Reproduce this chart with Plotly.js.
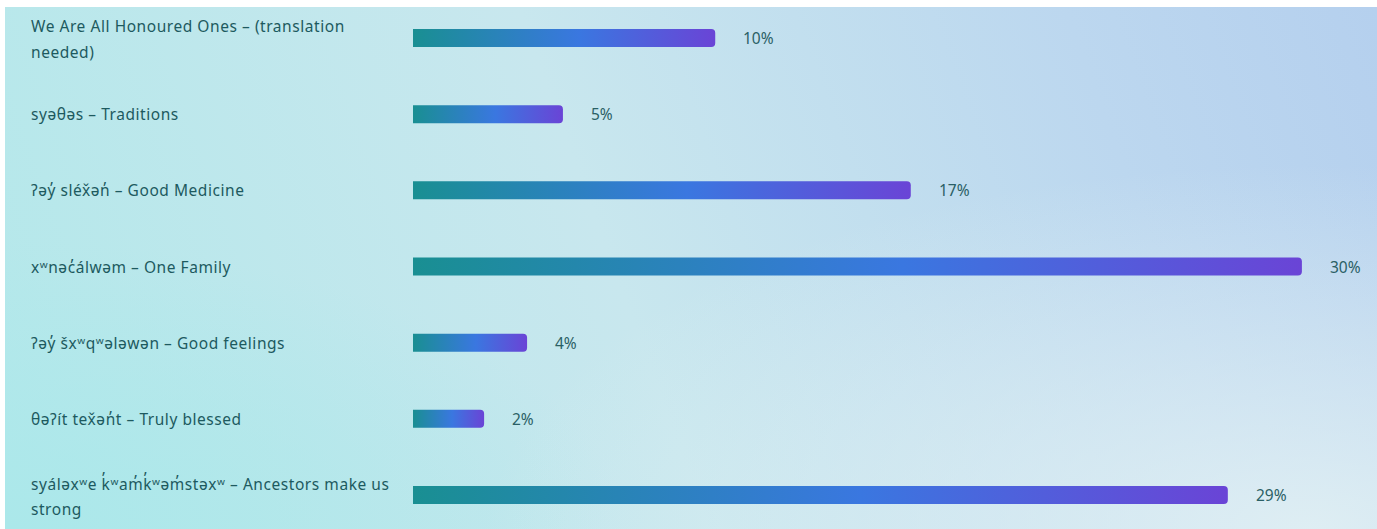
<!DOCTYPE html>
<html>
<head>
<meta charset="utf-8">
<script src="https://cdn.plot.ly/plotly-3.0.1.min.js"></script>
<style>
  html, body { margin: 0; padding: 0; background: #ffffff; width: 1377px; height: 529px; overflow: hidden; }
  #bg {
    position: absolute; left: 5px; top: 7px; right: 0; bottom: 0;
    background:
      radial-gradient(ellipse 60% 70% at 95% 100%, rgba(228,242,244,0.85) 0%, rgba(228,242,244,0) 100%),
      radial-gradient(ellipse 45% 55% at 0% 100%, rgba(170,232,234,0.9) 0%, rgba(170,232,234,0) 100%),
      linear-gradient(70deg, #b3e8ea 0%, #c8e7ee 45%, #bcd7ef 80%, #b5d0ee 100%);
  }
  #chart { position: absolute; left: 0; top: 0; width: 1377px; height: 529px; }
</style>
</head>
<body>
<div id="bg"></div>
<div id="chart"></div>
<script>
// Category labels (lines separated by \n)
const categories = [
  "We Are All Honoured Ones – (translation\nneeded)",
  "syəθəs – Traditions",
  "ʔəy̓ sléx̌ən̓ – Good Medicine",
  "xʷnəc̓álwəm – One Family",
  "ʔəy̓ šxʷqʷələwən – Good feelings",
  "θəʔít tex̌ən̓t – Truly blessed",
  "syáləxʷe k̓ʷam̓k̓ʷəm̓stəxʷ – Ancestors make us\nstrong"
];
// Bar lengths (percent)
const values = [10.2, 5.06, 16.8, 30.0, 3.85, 2.4, 27.5];
// Value labels as printed
const valueLabels = ["10%", "5%", "17%", "30%", "4%", "2%", "29%"];

const idx = categories.map((_, i) => i);

const textColor = "#1d5a5f";
const font = "Noto Sans, DejaVu Sans, sans-serif";

const annotations = [];
categories.forEach((c, i) => {
  const lines = c.split("\n");
  const shifts = lines.length === 1 ? [0] : [12, -14];
  lines.forEach((ln, k) => {
    annotations.push({
      xref: "paper", yref: "y", x: (29 - 413) / 964, y: i,
      xanchor: "left", yanchor: "middle", yshift: shifts[k],
      text: ln, showarrow: false, align: "left",
      font: { family: font, size: 15.5, color: textColor }
    });
  });
  annotations.push({
    xref: "x", yref: "y", x: values[i], y: i,
    xanchor: "left", yanchor: "middle", xshift: 26,
    text: valueLabels[i], showarrow: false,
    font: { family: font, size: 15.5, color: "#2a5f65" }
  });
});

const trace = {
  type: "bar", orientation: "h",
  x: values, y: idx,
  width: 0.236,
  marker: { color: "#3a76e0", cornerradius: 4, line: { width: 0 } },
  hoverinfo: "none"
};

const layout = {
  width: 1377, height: 529,
  margin: { l: 413, r: 0, t: 0, b: 0, pad: 0 },
  paper_bgcolor: "rgba(0,0,0,0)",
  plot_bgcolor: "rgba(0,0,0,0)",
  showlegend: false,
  xaxis: { range: [0, 964 / 29.63], visible: false, fixedrange: true },
  yaxis: { range: [6.446, -0.499], visible: false, fixedrange: true },
  annotations: annotations,
  font: { family: font }
};

Plotly.newPlot("chart", [trace], layout, { staticPlot: true, displayModeBar: false }).then(gd => {
  const svg = gd.querySelector(".main-svg");
  let defs = svg.querySelector("defs");
  const ns = "http://www.w3.org/2000/svg";
  if (!defs) { defs = document.createElementNS(ns, "defs"); svg.insertBefore(defs, svg.firstChild); }
  const grad = document.createElementNS(ns, "linearGradient");
  grad.setAttribute("id", "barGrad");
  grad.setAttribute("x1", "0"); grad.setAttribute("y1", "0");
  grad.setAttribute("x2", "1"); grad.setAttribute("y2", "0");
  [["0", "#198f92"], ["0.55", "#3a77e0"], ["1", "#6a44d6"]].forEach(([o, c]) => {
    const s = document.createElementNS(ns, "stop");
    s.setAttribute("offset", o); s.setAttribute("stop-color", c);
    grad.appendChild(s);
  });
  defs.appendChild(grad);
  gd.querySelectorAll(".trace.bars .point path").forEach(p => {
    p.style.fill = "url(#barGrad)";
  });
  // widen category label tracking slightly
  gd.querySelectorAll(".annotation").forEach(a => {
    const t = a.querySelector("text");
    if (t && !/%$/.test(t.textContent)) t.style.letterSpacing = "0.55px";
  });
});
</script>
</body>
</html>
